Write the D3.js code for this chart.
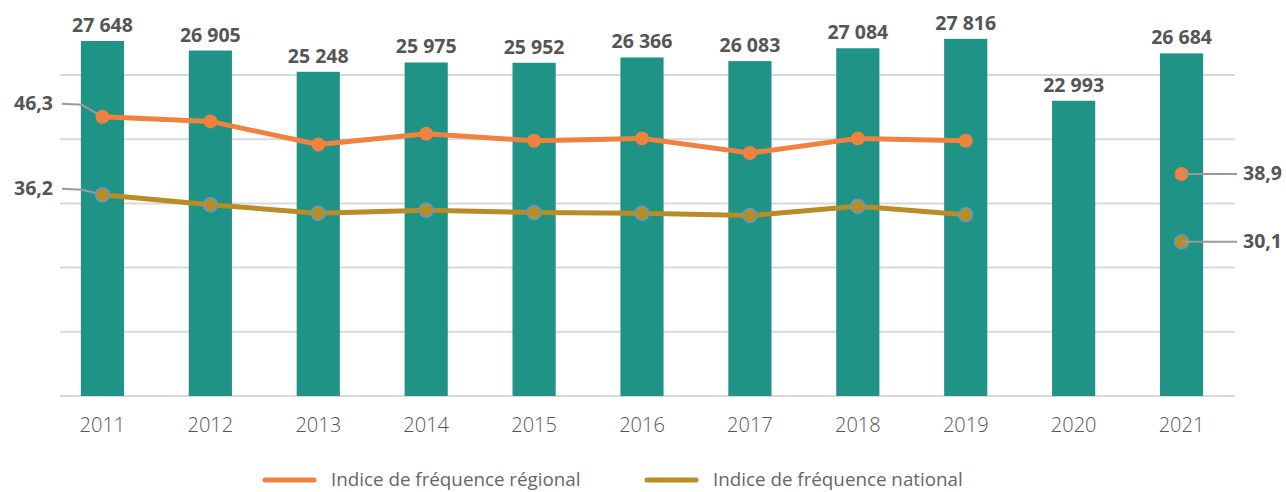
<!DOCTYPE html>
<html>
<head>
<meta charset="utf-8">
<script src="https://cdn.jsdelivr.net/npm/d3@7"></script>
<style>
  body { margin: 0; background: #fff; }
  svg { display: block; font-family: "Open Sans", "Noto Sans", sans-serif; }
</style>
</head>
<body>
<svg width="1286" height="492"></svg>
<script>
// Data
const years = ["2011", "2012", "2013", "2014", "2015", "2016", "2017", "2018", "2019", "2020", "2021"];
const effectifs = [27648, 26905, 25248, 25975, 25952, 26366, 26083, 27084, 27816, 22993, 26684];
const indiceRegional = [46.3, 45.7, 42.7, 44.1, 43.2, 43.5, 41.6, 43.5, 43.2, null, 38.9];
const indiceNational = [36.2, 34.9, 33.8, 34.2, 33.9, 33.8, 33.5, 34.7, 33.6, null, 30.1];
const gridTicks = [0, 5000, 10000, 15000, 20000, 25000];
const legendLabels = ["Indice de fréquence régional", "Indice de fréquence national"];

const svg = d3.select("svg");
const fr = d3.formatLocale({ decimal: ",", thousands: " ", grouping: [3], currency: ["", ""] });
const fmtInt = fr.format(",d"), fmtDec = fr.format(".1f");

const colors = { bar: "#1f9385", regional: "#f0813f", national: "#b98d25", grid: "#d9d9d9", text: "#555" };

// Scales
const x = d3.scaleBand().domain(years).range([48.5, 1235.5]).paddingInner(0.6).paddingOuter(0.3);
const yBar = d3.scaleLinear().domain([0, 30000]).range([396, 10.8]);
const yIdx = d3.scaleLinear().domain([10, 60]).range([397, 11]);
const cx = d => x(d) + x.bandwidth() / 2;

// Gridlines
svg.append("g").selectAll("line")
    .data(gridTicks)
    .enter().append("line")
    .attr("x1", 60).attr("x2", 1235)
    .attr("y1", d => yBar(d)).attr("y2", d => yBar(d))
    .attr("stroke", colors.grid)
    .attr("stroke-width", 2);

// Bars
const bars = years.map((y, i) => ({ year: y, value: effectifs[i] }));
svg.append("g").selectAll("rect")
    .data(bars)
    .enter().append("rect")
    .attr("x", d => x(d.year))
    .attr("width", x.bandwidth())
    .attr("y", d => yBar(d.value))
    .attr("height", d => yBar(0) - yBar(d.value))
    .attr("fill", colors.bar);

// Bar value labels
svg.append("g").selectAll("text")
    .data(bars)
    .enter().append("text")
    .attr("x", d => cx(d.year))
    .attr("y", d => yBar(d.value) - 9)
    .attr("text-anchor", "middle")
    .attr("font-size", 19.5)
    .attr("font-weight", 700)
    .attr("fill", colors.text)
    .text(d => fmtInt(d.value));

// X axis labels
svg.append("g").selectAll("text")
    .data(years)
    .enter().append("text")
    .attr("x", d => cx(d))
    .attr("y", 432)
    .attr("text-anchor", "middle")
    .attr("font-size", 20)
    .attr("font-weight", 300)
    .attr("fill", "#555")
    .text(d => d);

// Lines + points
const series = [
    { name: legendLabels[0], values: indiceRegional, color: colors.regional, stroke: colors.regional, labelDy: -13 },
    { name: legendLabels[1], values: indiceNational, color: colors.national, stroke: "#5b9bd5", labelDy: -6 }
];

const line = d3.line()
    .defined(d => d.v != null)
    .x(d => cx(d.year))
    .y(d => yIdx(d.v));

series.forEach(s => {
    const pts = years.map((y, i) => ({ year: y, v: s.values[i] }));
    const lineable = pts.filter((d, i) => i < 9);

    svg.append("path")
        .datum(lineable)
        .attr("d", line)
        .attr("fill", "none")
        .attr("stroke", s.color)
        .attr("stroke-width", 5)
        .attr("stroke-linejoin", "round");

    // left leader + label for first value
    const first = pts[0];
    const fy = yIdx(first.v), ly = fy + s.labelDy;
    svg.append("polyline")
        .attr("points", `62,${ly} 82,${ly + 1} ${cx(first.year)},${fy}`)
        .attr("fill", "none")
        .attr("stroke", "#9a9a9a")
        .attr("stroke-width", 2);
    svg.append("text")
        .attr("x", 53).attr("y", ly + 6.5)
        .attr("text-anchor", "end")
        .attr("font-size", 19.5)
        .attr("font-weight", 700)
        .attr("fill", colors.text)
        .text(fmtDec(first.v));

    const last = pts[pts.length - 1];
    const ry = yIdx(last.v);

    svg.append("g").selectAll("circle")
        .data(pts.filter(d => d.v != null))
        .enter().append("circle")
        .attr("cx", d => cx(d.year))
        .attr("cy", d => yIdx(d.v))
        .attr("r", 7)
        .attr("fill", s.color)
        .attr("stroke", s.stroke === s.color ? "none" : s.stroke)
        .attr("stroke-width", 1.5);

    // right leader (drawn over the marker, like the reference) + label for last value
    svg.append("line")
        .attr("x1", cx(last.year)).attr("x2", 1237)
        .attr("y1", ry).attr("y2", ry)
        .attr("stroke", "#9a9a9a")
        .attr("stroke-width", 2);

    svg.append("text")
        .attr("x", 1243).attr("y", ry + 6.5)
        .attr("font-size", 19.5)
        .attr("font-weight", 700)
        .attr("fill", colors.text)
        .text(fmtDec(last.v));
});

// Legend
const legendX = [263, 645];
const legend = svg.append("g").selectAll("g")
    .data(series)
    .enter().append("g")
    .attr("transform", (d, i) => `translate(${legendX[i]},480)`);

legend.append("line")
    .attr("x1", 2).attr("x2", 51)
    .attr("stroke", d => d.color)
    .attr("stroke-width", 5)
    .attr("stroke-linecap", "round");

legend.append("text")
    .attr("x", 68).attr("y", 6)
    .attr("font-size", 18.8)
    .attr("fill", "#666")
    .text(d => d.name);
</script>
</body>
</html>
